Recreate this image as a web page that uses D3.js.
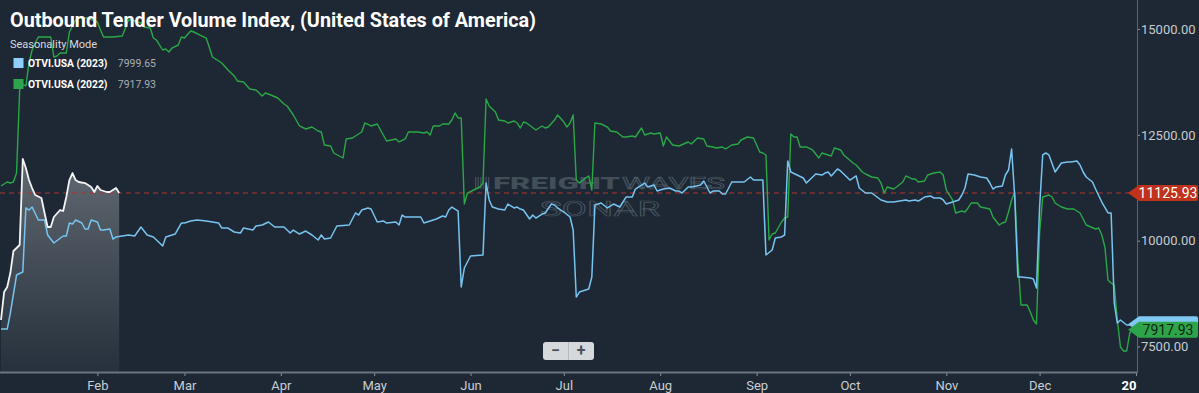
<!DOCTYPE html>
<html><head><meta charset="utf-8">
<script src="https://cdn.jsdelivr.net/npm/d3@7"></script>
<style>
html,body{margin:0;padding:0;background:#1d2834;}
svg{display:block;}
text{font-family:Roboto,"Noto Sans",sans-serif;}
</style></head><body>
<svg id="chart" width="1199" height="393"></svg>
<script>
// ---- DATA (day of year offset from Jan 1, value) ----
const days2023 = [0,2,3,5,7,8,9,10,12,14,15,17,20,21,22,23,24,26,27,28,29,31,32,33,35,36,37,39,41,43,45,47,49,52,53,56,58,59,61,63,66,70,71,73,75,77,78,81,82,84,86,88,91,93,94,96,98,100,102,103,104,106,108,112,114,115,116,118,119,121,123,124,127,128,129,130,132,135,136,138,140,142,143,144,145,147,148,149,150,151,155,156,157,158,160,162,163,165,166,167,168,170,171,172,174,175,177,178,179,181,183,184,185,186,189,190,191,193,195,197,199,201,203,204,206,207,208,210,211,213,215,217,218,219,221,222,225,226,228,229,231,232,233,235,237,239,241,242,243,245,246,248,249,251,252,253,254,256,258,259,262,264,265,266,267,269,270,273,275,276,278,280,283,285,287,291,292,294,295,297,299,300,302,303,304,306,308,309,310,311,313,315,317,318,319,320,322,323,324,325,326,327,328,331,332,333,334,335,336,337,339,341,343,344,346,347,348,349,351,352,354,356,357,358,359,360,362,363,364];
const otvi2023 = [7913,7913,8291,9189,9260,10772,10724,10795,10488,10488,10134,9945,10110,10110,10417,10394,10488,10417,10276,10276,10488,10441,10252,10252,10276,10039,10087,10110,10134,10110,10323,10134,10087,9874,10087,10157,10417,10417,10465,10488,10465,10417,10299,10299,10205,10181,10299,10252,10346,10370,10441,10323,10323,10181,10252,10157,10228,10134,10016,10134,10039,10063,10346,10370,10654,10606,10724,10772,10748,10441,10465,10417,10441,10370,10606,10559,10559,10559,10417,10465,10512,10583,10559,10724,10795,10700,8906,9354,9496,9638,9661,11362,10961,10795,10748,10724,10866,10772,10795,10748,10724,10512,10606,10535,10630,10654,10866,10843,10772,10677,10559,10252,8669,8787,8858,9142,10843,10890,10772,10866,10795,11031,11031,11220,11315,11362,11268,11315,11173,11220,11244,11173,11173,11126,11268,11268,11315,11409,11126,11173,11173,11102,11102,11386,11386,11386,11504,11433,11433,11433,9661,9780,10063,10087,10134,11882,11622,11551,11480,11362,11575,11551,11598,11622,11528,11693,11646,11433,11528,11244,11126,11126,10961,10913,10913,10961,10937,10961,10937,11031,11055,11008,11008,10961,10866,10913,10961,11079,11244,11575,11551,11504,11480,11362,11220,11268,11291,11551,11669,12165,11031,9142,9142,9118,9095,8882,10795,12024,12071,12024,11622,11835,11858,11858,11882,11787,11622,11504,11386,11220,10913,10654,10654,8528,8055,8126,8008,8008,7999.65];

const days2022 = [0,2,3,4,5,6,7,8,9,10,11,12,15,16,17,18,19,21,22,24,25,28,31,32,33,36,39,40,41,42,45,46,48,49,50,52,53,54,55,57,58,59,61,62,64,66,68,70,71,73,75,76,78,80,82,84,85,86,89,91,92,94,96,98,100,102,103,104,106,107,110,111,113,116,117,119,121,124,127,128,130,131,134,136,137,138,139,141,142,144,145,146,147,148,149,150,152,154,155,156,157,159,160,162,163,165,166,167,168,169,172,174,175,176,178,179,181,182,183,184,185,186,188,189,190,191,193,195,196,198,200,201,203,204,206,207,209,210,212,213,214,216,218,221,222,224,226,227,229,230,232,233,235,237,238,240,242,244,245,246,247,248,249,251,252,253,254,255,256,257,259,261,263,264,265,267,268,270,271,274,275,277,278,280,282,283,284,285,287,288,290,291,293,294,295,297,298,300,302,303,304,306,307,309,310,311,312,314,315,318,319,321,322,323,324,325,326,327,328,330,331,332,333,334,335,337,338,339,341,343,345,347,349,352,353,354,355,356,357,358,359,360,361,362,363,364];
const otvi2022 = [11291,11386,11362,11386,11600,13559,13700,13654,14197,14504,14669,14811,14811,14811,14339,14362,14433,14433,14929,15213,15260,15260,15165,14976,14811,14811,14835,15024,15213,15213,15142,15047,15024,14787,14740,14504,14528,14457,14551,14622,14811,14787,14953,14929,14858,14787,14339,14244,14197,14031,13890,13772,13748,13583,13559,13417,13488,13465,13370,13228,13181,12969,12709,12638,12685,12591,12567,12260,12236,12071,11953,12402,12425,12567,12780,12709,12756,12354,12402,12331,12402,12567,12567,12543,12567,12496,12709,12709,12756,12756,12850,13016,12898,12898,10866,11126,11197,11268,11362,13346,13181,13039,12850,12827,12780,12827,12780,12661,12803,12780,12614,12709,12661,12685,12850,12969,12803,12685,12780,12969,11433,11362,11480,11528,11197,12780,12756,12685,12591,12567,12449,12449,12472,12449,12661,12496,12543,12520,12543,12236,12449,12260,12236,12331,12283,12425,12402,12236,12213,12189,12213,12165,12260,12283,12378,12449,12425,12094,12071,12024,10016,10157,10181,10441,10535,10559,12520,12449,12449,12213,12213,12142,11953,12071,12047,12000,12189,12142,12024,11835,11787,11622,11575,11504,11480,11362,11126,11268,11220,11268,11386,11528,11457,11457,11386,11409,11551,11598,11622,11551,11197,10961,10654,10701,10677,10772,10890,10890,10795,10748,10559,10370,10417,10441,10677,10961,11150,9543,8480,8480,8315,8126,8031,10181,11031,11079,11031,10890,10795,10748,10748,10654,10370,10276,10299,10134,9850,9071,9000,8953,8126,7488,7394,7394,7819,7917.93];

const days2024 = [0,1,2,3,4,5,6,7,8,9,10,11,13,14,15,16,17,19,20,21,22,23,24,25,27,29,30,31,32,33,34,35,37,38];
const otvi2024 = [8126,8787,8906,9236,9756,9827,9898,11929,11717,11433,11244,11079,11008,10654,10323,10323,10559,10724,10701,11031,11433,11598,11433,11386,11362,11268,11150,11291,11197,11173,11150,11150,11244,11125.93];

const yTicks = [7500, 10000, 12500, 15000];
const monthLabels = ["Feb","Mar","Apr","May","Jun","Jul","Aug","Sep","Oct","Nov","Dec","20"];
const seriesNames = ["OTVI.USA (2023)","OTVI.USA (2022)"];
const lastValues = [7999.65, 7917.93];
const currentValue = 11125.93;
const titleText = "Outbound Tender Volume Index, (United States of America)";

// ---- CHART ----
const svg = d3.select("#chart");
const base = new Date(2023,0,1);
const toDate = d => d3.timeDay.offset(base, d);
const x = d3.scaleTime().domain([base, new Date(2024,0,1)]).range([1,1136]);
const y = d3.scaleLinear().domain([6898,15685]).range([372,0]);

svg.append("rect").attr("width",1199).attr("height",393).attr("fill","#1d2834");

const defs = svg.append("defs");
defs.append("clipPath").attr("id","plotclip").append("rect").attr("x",0).attr("y",0).attr("width",1137).attr("height",372);
const grad = defs.append("linearGradient").attr("id","areaGrad").attr("gradientUnits","userSpaceOnUse")
  .attr("x1",0).attr("y1",160).attr("x2",0).attr("y2",372);
grad.append("stop").attr("offset","0%").attr("stop-color","#ffffff").attr("stop-opacity",0.3);
grad.append("stop").attr("offset","100%").attr("stop-color","#ffffff").attr("stop-opacity",0.04);

// watermark
const wm = svg.append("g");
for (let i=0;i<6;i++) wm.append("rect").attr("x",475+i*2.6).attr("y",177).attr("width",1.3).attr("height",12).attr("fill","#434e59");
wm.append("text").attr("x",493).attr("y",189).attr("font-size",16).attr("font-weight",900)
  .attr("textLength",127).attr("lengthAdjust","spacingAndGlyphs").attr("fill","#434e59").text("FREIGHT");
wm.append("text").attr("x",622).attr("y",189).attr("font-size",16).attr("font-weight",400)
  .attr("textLength",103).attr("lengthAdjust","spacingAndGlyphs").attr("fill","none").attr("stroke","#4a5560").attr("stroke-width",0.7).text("WAVES");
wm.append("text").attr("x",540).attr("y",216).attr("font-size",21).attr("font-weight",400)
  .attr("textLength",120).attr("lengthAdjust","spacingAndGlyphs").attr("fill","none").attr("stroke","#4a5560").attr("stroke-width",0.7).text("SONAR");

const plot = svg.append("g").attr("clip-path","url(#plotclip)");

const mk = (days, vals) => days.map((d,i)=>({date:toDate(d), v:vals[i]}));
const s2023 = mk(days2023, otvi2023), s2022 = mk(days2022, otvi2022), s2024 = mk(days2024, otvi2024);

const line = d3.line().x(d=>x(d.date)).y(d=>y(d.v));
const area = d3.area().x(d=>x(d.date)).y0(372).y1(d=>y(d.v));

plot.append("path").datum(s2024).attr("d",area).attr("fill","url(#areaGrad)");

// current value line
plot.append("line").attr("x1",0).attr("x2",1137).attr("y1",y(currentValue)).attr("y2",y(currentValue))
  .attr("stroke","#b0352a").attr("stroke-width",1).attr("stroke-dasharray","5,4");

plot.append("path").datum(s2022).attr("d",line).attr("fill","none").attr("stroke","#2aa846").attr("stroke-width",1.4).attr("stroke-linejoin","round");
plot.append("path").datum(s2023).attr("d",line).attr("fill","none").attr("stroke","#78c4f0").attr("stroke-width",1.5).attr("stroke-linejoin","round");
plot.append("path").datum(s2024).attr("d",line).attr("fill","none").attr("stroke","#f4f4f4").attr("stroke-width",1.8).attr("stroke-linejoin","round");

// axes
const xTickVals = d3.timeMonth.range(new Date(2023,1,1), new Date(2024,0,2));
const xAxis = d3.axisBottom(x).tickValues(xTickVals).tickSize(4).tickPadding(5)
  .tickFormat((d,i)=>monthLabels[i]);
const gx = svg.append("g").attr("transform","translate(0,372)").call(xAxis);
gx.select(".domain").remove();
gx.selectAll(".tick line").attr("stroke","#8a939c");
gx.selectAll(".tick text").attr("fill","#c9ced3").attr("font-size",13).attr("font-family","Roboto");
gx.selectAll(".tick text").filter((d,i)=>i===monthLabels.length-1)
  .attr("fill","#ffffff").attr("font-weight",700).attr("text-anchor","end").attr("dx",0);
svg.append("line").attr("x1",0).attr("x2",1137).attr("y1",372.5).attr("y2",372.5).attr("stroke","#6b757f").attr("stroke-width",2);

const yAxis = d3.axisRight(y).tickValues(yTicks).tickSize(3).tickPadding(1).tickFormat(d3.format(".2f"));
const gy = svg.append("g").attr("transform","translate(1137,0)").call(yAxis);
gy.select(".domain").remove();
gy.selectAll(".tick line").attr("stroke","#8a939c");
gy.selectAll(".tick text").attr("fill","#c6cbd0").attr("font-size",13).attr("font-family","Roboto");
svg.append("line").attr("x1",1137.5).attr("x2",1137.5).attr("y1",0).attr("y2",373).attr("stroke","#5d6771").attr("stroke-width",1);

// price labels
function priceTag(v, fill, textFill, txt, dy){
  const cy = y(v) + (dy||0);
  const g = svg.append("g");
  g.append("path").attr("d",`M1128,${cy} L1139,${cy-8} H1196 Q1198,${cy-8} 1198,${cy-6} V${cy+6} Q1198,${cy+8} 1196,${cy+8} H1139 Z`).attr("fill",fill);
  if (txt) g.append("text").attr("x",1168).attr("y",cy+5).attr("text-anchor","middle").attr("font-size",14)
    .attr("fill",textFill).text(txt);
}
priceTag(currentValue, "#c0321c", "#ffffff", d3.format(".2f")(currentValue));
// 2023 tag sits behind the 2022 tag (its text is hidden in the reference)
priceTag(lastValues[0], "#7fc8f3", null, null, -1);
priceTag(lastValues[1], "#2ea44a", "#0b2411", d3.format(".2f")(lastValues[1]), 1);

// title & legend
svg.append("text").attr("x",10).attr("y",27).attr("font-size",20).attr("font-weight",700).attr("fill","#ffffff")
  .attr("textLength",526).attr("lengthAdjust","spacingAndGlyphs").text(titleText);
svg.append("text").attr("x",10).attr("y",48).attr("font-size",11).attr("fill","#d6dade").text("Seasonality Mode");
const legColors = ["#8dd0fb","#2ea44f"];
seriesNames.forEach((n,i)=>{
  const yy = 58 + i*21;
  svg.append("rect").attr("x",13.5).attr("y",yy).attr("width",10).attr("height",10).attr("fill",legColors[i]);
  svg.append("text").attr("x",28).attr("y",yy+9).attr("font-size",10.3).attr("font-weight",700).attr("fill","#ffffff").text(n);
  svg.append("text").attr("x",156).attr("y",yy+9).attr("text-anchor","end").attr("font-size",10.5).attr("fill","#a9aeb3").text(d3.format(".2f")(lastValues[i]));
});

// zoom control
const zc = svg.append("g");
zc.append("rect").attr("x",543).attr("y",342).attr("width",51).attr("height",18).attr("rx",3).attr("fill","#d6d9dc");
zc.append("line").attr("x1",568.5).attr("x2",568.5).attr("y1",342).attr("y2",360).attr("stroke","#b5b9bd");
zc.append("text").attr("x",555.5).attr("y",356).attr("text-anchor","middle").attr("font-size",16).attr("font-weight",700).attr("fill","#4d5258").text("−");
zc.append("text").attr("x",581).attr("y",356).attr("text-anchor","middle").attr("font-size",16).attr("font-weight",700).attr("fill","#4d5258").text("+");
</script>
</body></html>
